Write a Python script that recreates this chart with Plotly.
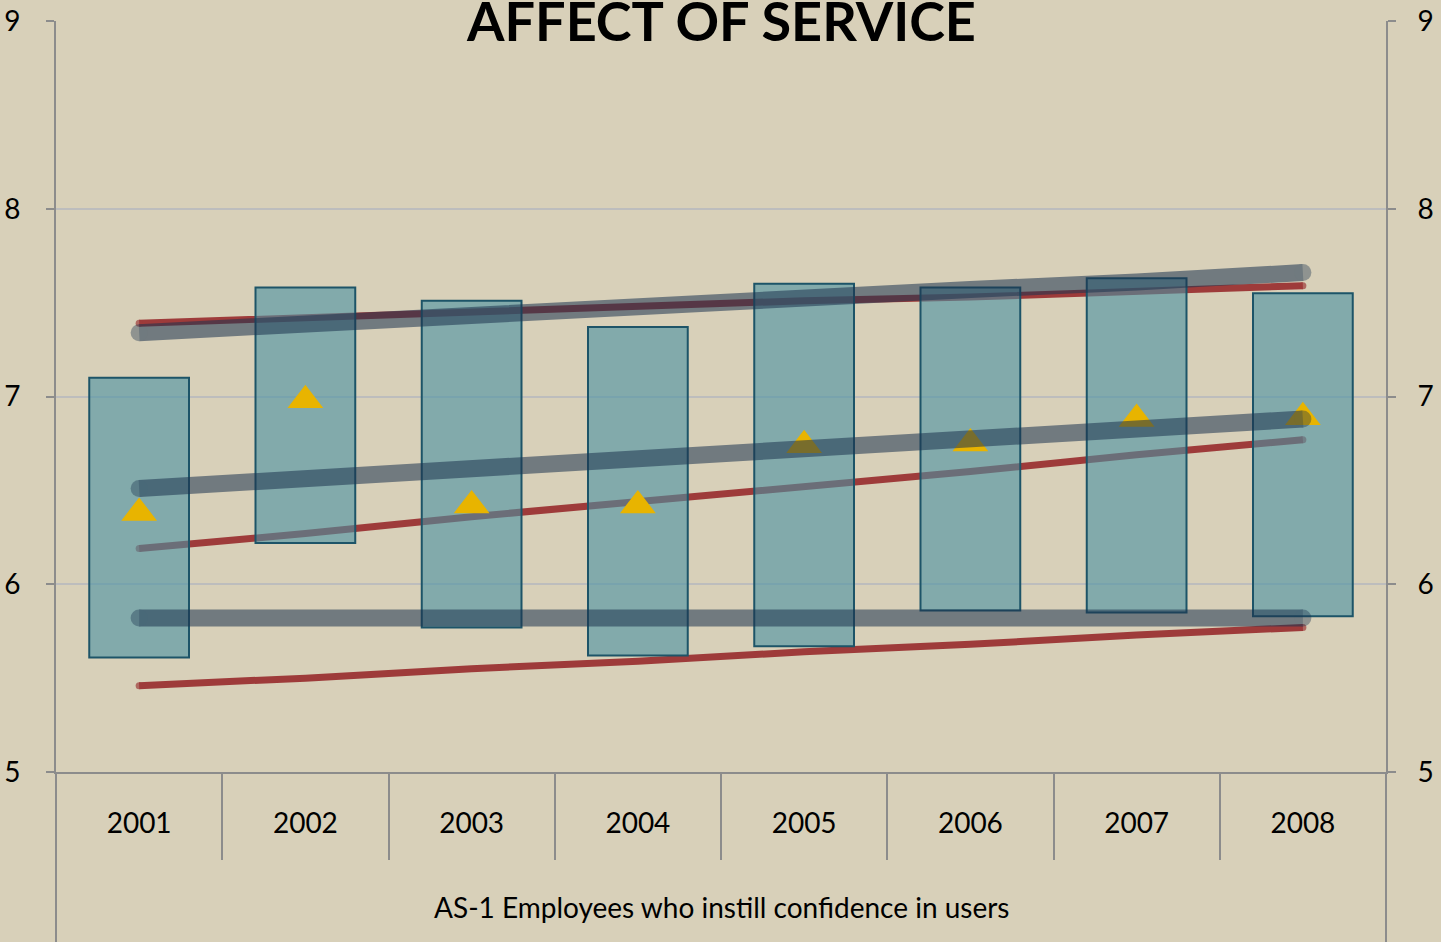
import plotly.graph_objects as go

# ---------------- data ----------------
years = ["2001", "2002", "2003", "2004", "2005", "2006", "2007", "2008"]
bar_low = [5.61, 6.22, 5.77, 5.62, 5.67, 5.86, 5.85, 5.83]
bar_high = [7.10, 7.58, 7.51, 7.37, 7.60, 7.58, 7.63, 7.55]
mean_score = [6.38, 6.98, 6.42, 6.42, 6.74, 6.75, 6.88, 6.89]

grey_upper = [7.34, 7.39, 7.43, 7.48, 7.52, 7.57, 7.61, 7.66]
grey_mid = [6.51, 6.56, 6.62, 6.67, 6.72, 6.78, 6.83, 6.88]
grey_lower = [5.82, 5.82, 5.82, 5.82, 5.82, 5.82, 5.82, 5.82]

red_upper = [7.39, 7.42, 7.45, 7.48, 7.51, 7.53, 7.56, 7.59]
red_mid = [6.19, 6.27, 6.36, 6.44, 6.52, 6.60, 6.69, 6.77]
red_lower = [5.46, 5.50, 5.55, 5.59, 5.64, 5.68, 5.73, 5.77]

y_ticks = [5, 6, 7, 8, 9]
chart_title = "AFFECT OF SERVICE"
x_title = "AS-1 Employees who instill confidence in users"

# ---------------- styles ----------------
FONT = "Lato"
AXIS_GREY = "#8c8c8c"
BG = "#d8d0b9"
RED = "#9b3434"
GREY_LINE = "rgb(29,52,80)"
BAR_FILL = "rgba(73,145,161,0.6)"
BAR_EDGE = "#1d5468"


def cap_sizes(n, w):
    return [w] + [0] * (n - 2) + [w]


fig = go.Figure()

# red trend lines (bottom layer, main y axis)
for vals in (red_upper, red_mid, red_lower):
    fig.add_trace(go.Scatter(
        x=years, y=vals, mode="lines+markers",
        line=dict(color=RED, width=7),
        marker=dict(color=RED, size=cap_sizes(len(years), 7), line=dict(width=0)),
        opacity=0.95, showlegend=False, hoverinfo="skip", yaxis="y"))

# floating bars (overlay axis so they sit above red lines)
fig.add_trace(go.Bar(
    x=years, y=[h - l for h, l in zip(bar_high, bar_low)], base=bar_low,
    width=0.6, marker=dict(color=BAR_FILL, line=dict(color=BAR_EDGE, width=2)),
    showlegend=False, hoverinfo="skip", yaxis="y2"))

# yellow triangles
fig.add_trace(go.Scatter(
    x=years, y=mean_score, mode="markers",
    marker=dict(symbol="triangle-up", size=31, color="#e8b400", line=dict(width=0)),
    showlegend=False, hoverinfo="skip", yaxis="y2"))

# grey trend lines (top layer)
for vals in (grey_upper, grey_mid, grey_lower):
    fig.add_trace(go.Scatter(
        x=years, y=vals, mode="lines+markers",
        line=dict(color=GREY_LINE, width=17),
        marker=dict(color=GREY_LINE, size=cap_sizes(len(years), 17), line=dict(width=0)),
        opacity=0.55, showlegend=False, hoverinfo="skip", yaxis="y3"))

tickfont = dict(family=FONT, size=28, color="black")

fig.update_layout(
    template="none",
    width=1441, height=942,
    margin=dict(l=56, r=55, t=21, b=170, autoexpand=False),
    paper_bgcolor=BG, plot_bgcolor="rgba(0,0,0,0)",
    bargap=0.4,
    xaxis=dict(
        type="category", range=[-0.5, 7.5], categoryorder="array", categoryarray=years,
        showline=True, linecolor=AXIS_GREY, linewidth=2, automargin=False,
        ticks="outside", tickson="boundaries", ticklen=86, tickwidth=2, tickcolor=AXIS_GREY,
        tickfont=tickfont, ticklabelstandoff=25, showgrid=False, zeroline=False),
    yaxis=dict(
        range=[5, 9], tickvals=y_ticks, showgrid=True, gridcolor="#bdbdbd", gridwidth=1.5,
        showline=True, linecolor=AXIS_GREY, linewidth=2, zeroline=False, automargin=False,
        ticks="outside", ticklen=8, tickwidth=2, tickcolor=AXIS_GREY,
        tickfont=tickfont, ticklabelstandoff=20),
    yaxis2=dict(
        range=[5, 9], tickvals=y_ticks, overlaying="y", side="right", anchor="x",
        showgrid=False, zeroline=False, showline=True, linecolor=AXIS_GREY, linewidth=2,
        automargin=False,
        ticks="outside", ticklen=8, tickwidth=2, tickcolor=AXIS_GREY,
        tickfont=tickfont, ticklabelstandoff=16),
    yaxis3=dict(range=[5, 9], overlaying="y", visible=False, automargin=False),
    annotations=[
        dict(text=chart_title, xref="paper", yref="paper", x=0.5, y=1, yshift=1,
             xanchor="center", yanchor="middle", showarrow=False,
             font=dict(family=FONT, size=54, color="black", weight="bold")),
        dict(text=x_title, xref="paper", yref="paper", x=0.5, y=-0.1798,
             xanchor="center", yanchor="middle", showarrow=False,
             font=dict(family=FONT, size=28, color="black")),
    ],
    shapes=[
        dict(type="line", xref="paper", yref="paper", x0=0, x1=0, y0=-0.25, y1=0,
             line=dict(color=AXIS_GREY, width=2)),
        dict(type="line", xref="paper", yref="paper", x0=1, x1=1, y0=-0.25, y1=0,
             line=dict(color=AXIS_GREY, width=2)),
    ],
)

fig.write_html(
    "out.html",
    config={"displayModeBar": False},
    post_script="document.body.style.margin='0';document.body.style.background='%s';" % BG,
)
